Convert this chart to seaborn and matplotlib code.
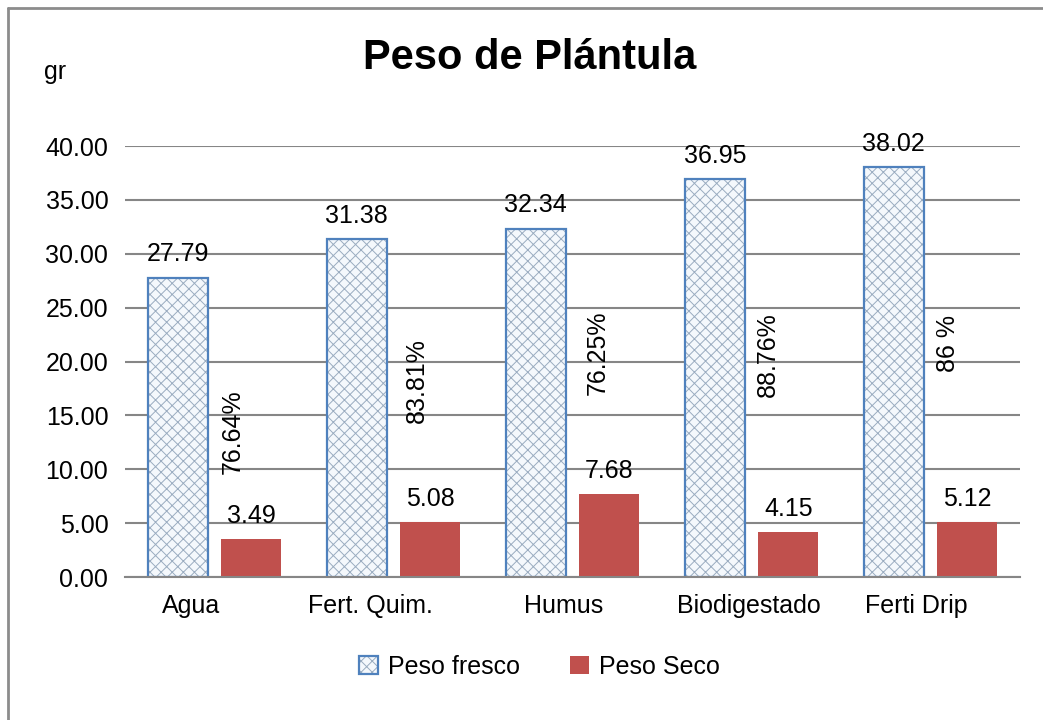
import matplotlib
matplotlib.use("Agg")
import matplotlib.pyplot as plt
import matplotlib.colors as mcolors
import matplotlib.transforms as mtransforms
from matplotlib import font_manager
from matplotlib.lines import Line2D
import seaborn as sns
import pandas as pd

categories = ["Agua", "Fert. Quim.", "Humus", "Biodigestado", "Ferti Drip"]
peso_fresco = [27.79, 31.38, 32.34, 36.95, 38.02]
peso_seco = [3.49, 5.08, 7.68, 4.15, 5.12]
porcentajes = ["76.64%", "83.81%", "76.25%", "88.76%", "86 %"]
series_names = ["Peso fresco", "Peso Seco"]
yticks = [0, 5, 10, 15, 20, 25, 30, 35, 40]

# placement of the rotated percentage labels (x offset from category, y in data units)
pct_dx = [0.10, 0.13, 0.14, 0.09, 0.10]
pct_y = [13.5, 18.2, 20.8, 20.6, 21.7]
# horizontal nudges of category labels (pixels)
xlabel_shift = [-23, -23, -9, -3, -14]

sns.set_theme(style="white")
names = {f.name for f in font_manager.fontManager.ttflist}
main_font = "Liberation Sans Narrow" if "Liberation Sans Narrow" in names else "Liberation Sans"
plt.rcParams["font.family"] = [main_font, "DejaVu Sans"]
plt.rcParams["hatch.linewidth"] = 0.7
plt.rcParams["text.color"] = "black"

df = pd.DataFrame({
    "cat": categories * 2,
    "val": peso_fresco + peso_seco,
    "serie": [series_names[0]] * len(categories) + [series_names[1]] * len(categories),
})

fig = plt.figure(figsize=(10.43, 7.2), dpi=100)
ax = fig.add_axes([0.1198, 0.1986, 0.8582, 0.5986])

blue_edge = "#4F81BD"
red = "#C0504D"
sns.barplot(data=df, x="cat", y="val", hue="serie", order=categories,
            hue_order=series_names, palette=["#F4F8FC", red], width=0.82, gap=0.18,
            saturation=1, legend=False, ax=ax, errorbar=None)

fresco_c, seco_c = ax.containers[0], ax.containers[1]
for p in fresco_c:
    p.set_edgecolor(blue_edge)
    p.set_linewidth(1.6)
    p.set_hatch("xxx")
    try:
        p._hatch_color = mcolors.to_rgba("#9AACC0")
    except Exception:
        pass
for p in seco_c:
    p.set_edgecolor(red)
    p.set_linewidth(0)

fs = 18
ax.bar_label(fresco_c, fmt="%.2f", padding=8, fontsize=fs, color="black", clip_on=False)
ax.bar_label(seco_c, fmt="%.2f", padding=8, fontsize=fs, color="black", clip_on=False)

for i, txt in enumerate(porcentajes):
    ax.text(i + pct_dx[i], pct_y[i], txt, rotation=90, ha="center", va="center",
            fontsize=fs, color="black")

ax.set_ylim(0, 40)
ax.set_xlim(-0.5, len(categories) - 0.5)
ax.set_yticks(yticks)
ax.set_yticklabels([f"{v:.2f}" for v in yticks])
ax.tick_params(axis="both", length=0, labelsize=fs, colors="black")
ax.tick_params(axis="y", pad=12)
ax.tick_params(axis="x", pad=12)
for lbl, dx in zip(ax.get_xticklabels(), xlabel_shift):
    lbl.set_transform(lbl.get_transform() + mtransforms.ScaledTranslation(dx / 100, 0, fig.dpi_scale_trans))
ax.set_xlabel("")
ax.set_ylabel("")
ax.yaxis.grid(True, color="#868686", linewidth=1.5)
ax.set_axisbelow(True)
for s in ["left", "right", "top"]:
    ax.spines[s].set_visible(False)
ax.spines["bottom"].set_color("#868686")
ax.spines["bottom"].set_linewidth(1.5)

fig.text(530 / 1043, 1 - 58 / 720, "Peso de Plántula", ha="center", va="center",
         fontsize=30, fontweight="bold", color="black")
fig.text(55 / 1043, 1 - 72 / 720, "gr", ha="center", va="center", fontsize=fs, color="black")

# outer chart border (top and left visible)
fig.add_artist(Line2D([8 / 1043, 1], [1 - 8 / 720, 1 - 8 / 720], color="#8C8C8C", lw=2, transform=fig.transFigure))
fig.add_artist(Line2D([8 / 1043, 8 / 1043], [0, 1 - 8 / 720], color="#8C8C8C", lw=2, transform=fig.transFigure))

leg = fig.legend([fresco_c[0], seco_c[0]], series_names, loc="center", bbox_to_anchor=(0.517, 0.074),
                 ncol=2, frameon=False, fontsize=fs, handlelength=0.75, handleheight=0.75,
                 handletextpad=0.4, columnspacing=2.0)
for t in leg.get_texts():
    t.set_color("black")

fig.savefig("out.png", dpi=100)
